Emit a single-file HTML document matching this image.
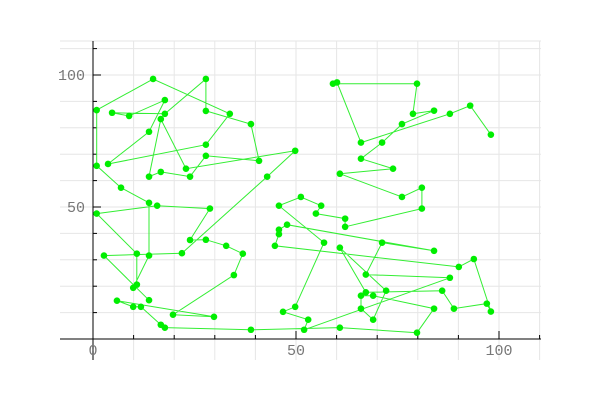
<!DOCTYPE html>
<html><head><meta charset="utf-8"><style>
body{margin:0;background:#fff;width:600px;height:400px;overflow:hidden}
svg text{font-family:"Liberation Mono",monospace;font-size:15px;fill:#777}
</style></head><body>
<svg id="c" width="600" height="400"></svg>
<script>
const xs=[0.9,4.7,8.9,14.8,17.7,17.7,16.7,13.8,27.8,27.8,33.7,38.9,27.8,27.8,40.9,49.8,0.9,3.7,13.8,16.7,22.9,23.9,6.9,42.9,51.2,59.1,60.1,79.8,78.8,84.0,87.9,92.9,98.0,76.1,66.0,71.2,66.0,73.9,60.8,81.0,76.1,0.9,13.8,15.8,28.8,2.7,10.8,13.8,21.9,23.9,27.8,32.8,36.9,34.7,10.8,9.9,5.9,9.9,11.8,13.8,19.7,29.8,16.7,17.7,38.9,45.8,45.8,45.8,47.8,44.8,49.8,46.8,52.0,53.0,56.2,54.9,62.1,62.1,81.0,56.9,60.8,71.2,84.0,93.8,90.1,87.9,67.2,86.0,67.2,66.0,69.0,72.2,60.8,66.0,69.0,84.0,88.9,97.0,98.0,79.8];
const ys=[86.7,85.7,84.5,98.5,90.5,85.3,83.3,78.5,98.5,86.4,85.3,81.4,73.6,69.4,67.5,71.3,65.6,66.3,61.5,63.3,64.5,61.5,57.3,61.5,53.8,96.7,97.2,96.7,85.3,86.5,85.3,88.4,77.4,81.4,74.4,74.4,68.3,64.5,62.6,57.3,53.8,47.5,51.6,50.5,49.4,31.6,32.3,31.6,32.5,37.5,37.6,35.3,32.3,24.2,20.6,19.4,14.5,12.2,12.2,14.7,9.2,8.4,5.4,4.3,3.5,50.5,41.4,39.7,43.3,35.3,12.2,10.3,3.5,7.3,50.5,47.5,45.6,42.5,49.4,36.5,34.6,36.5,33.4,30.3,27.3,23.2,24.4,18.3,17.7,16.4,16.4,18.3,4.3,11.5,7.3,11.5,11.5,13.4,10.4,2.4];
const visitOrder=[33,32,31,35,27,26,28,29,30,34,36,37,38,39,41,40,79,78,77,76,75,25,66,80,71,72,74,73,86,87,82,83,69,67,68,70,85,84,99,98,97,88,89,81,92,95,94,90,91,96,100,93,65,64,63,59,58,57,62,61,54,53,52,51,50,45,44,42,47,55,56,48,43,23,17,1,4,11,13,18,8,5,3,2,6,9,10,12,15,14,22,20,19,7,21,16,24,49,46,60];
const xTicks=[0,50,100];
const yTicks=[50,100];
const NS="http://www.w3.org/2000/svg";
const svg=document.getElementById('c');
const X=v=>93+v*4.06, Y=v=>339-v*2.64;
function el(t,a){const e=document.createElementNS(NS,t);for(const k in a)e.setAttribute(k,a[k]);svg.appendChild(e);return e;}
for(let k=-3;k<=11;k++){const x=X(k*10);if(x<60||x>541)continue;
 const g=el('line',{x1:x,x2:x,y1:41,y2:360,stroke:'#e6e6e6','stroke-width':1});
 
 }
for(let k=-2;k<=11;k++){const y=Y(k*10);if(y<41||y>360)continue;
 const g=el('line',{x1:60,x2:541,y1:y,y2:y,stroke:'#e6e6e6','stroke-width':1});
 
 }
const tb=el('line',{x1:60,x2:541,y1:41,y2:41,stroke:'#e6e6e6'});


const xa=el('line',{x1:60,x2:541,y1:339,y2:339,stroke:'#000','stroke-width':1});


const ya=el('line',{x1:93,x2:93,y1:41,y2:360,stroke:'#000','stroke-width':1});


for(let k=-3;k<=11;k++){const x=X(k*10);if(x<60||x>541)continue;
 const big=k%5===0;const t=el('line',{x1:x,x2:x,y1:339,y2:big?331:335,stroke:'#000'});
 
 }
for(let k=-2;k<=11;k++){const y=Y(k*10);if(y<41||y>360)continue;
 const big=k%5===0;const t=el('line',{x1:93,x2:big?101:97,y1:y,y2:y,stroke:'#000'});
 
 }
xTicks.forEach(v=>{const t=el('text',{x:X(v),y:355,'text-anchor':'middle'});t.textContent=v;
 
 });
yTicks.forEach(v=>{const t=el('text',{x:85,y:Y(v)+5,'text-anchor':'end'});t.textContent=v;
 
 });
const pts=visitOrder.map(i=>X(xs[i-1]).toFixed(1)+','+Y(ys[i-1]).toFixed(1)).join(' ');
const pl=el('polyline',{points:pts,fill:'none',stroke:'#33ee33','stroke-width':1});


xs.forEach((x,i)=>{const c=el('circle',{cx:X(x),cy:Y(ys[i]),r:3.3,fill:'#00ee00'});
 
 });
</script>
</body></html>
